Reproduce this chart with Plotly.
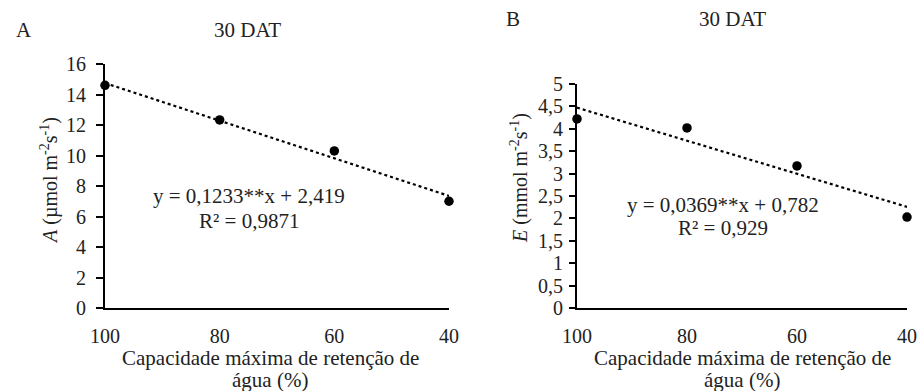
import plotly.graph_objects as go

# Data
x_levels = [100, 80, 60, 40]
a_values = [14.6, 12.33, 10.3, 7.0]
e_values = [4.22, 4.02, 3.17, 2.03]
a_fit = (0.1233, 2.419)
e_fit = (0.0369, 0.782)
x_ticks = [100, 80, 60, 40]
W, H = 920, 391

FONT = "Liberation Serif"

def px(x):
    return x / W

def py(y):
    return 1 - y / H

fig = go.Figure()

def add_panel(xa, ya, vals, fit):
    fx = [x_levels[0], x_levels[-1]]
    fy = [fit[0] * v + fit[1] for v in fx]
    fig.add_trace(go.Scatter(x=fx, y=fy, mode="lines",
                             line=dict(color="black", width=2.2, dash="dot"),
                             xaxis=xa, yaxis=ya, showlegend=False, hoverinfo="skip"))
    fig.add_trace(go.Scatter(x=x_levels, y=vals, mode="markers",
                             marker=dict(color="black", size=9.5),
                             xaxis=xa, yaxis=ya, showlegend=False, cliponaxis=False))

add_panel("x", "y", a_values, a_fit)
add_panel("x2", "y2", e_values, e_fit)

axis_common = dict(showline=True, linecolor="black", linewidth=2, showgrid=False,
                   zeroline=False, automargin=False,
                   tickfont=dict(family=FONT, size=20, color="#222"))

fig.update_layout(
    template="none",
    font=dict(family=FONT, color="#222"),
    width=W, height=H, margin=dict(l=0, r=0, t=0, b=0),
    paper_bgcolor="white", plot_bgcolor="white",
    separators=", ",
    xaxis=dict(domain=[px(105), px(449)], range=[100, 40], tickvals=x_ticks,
               ticks="", anchor="y", ticklabelstandoff=9, **axis_common),
    yaxis=dict(domain=[py(308), py(64)], range=[0, 16], dtick=2, ticks="outside",
               ticklen=7, tickwidth=1.5, tickcolor="black", anchor="x",
               ticklabelstandoff=6, **axis_common),
    xaxis2=dict(domain=[px(577), px(907)], range=[100, 40], tickvals=x_ticks,
                ticks="", anchor="y2", ticklabelstandoff=9, **axis_common),
    yaxis2=dict(domain=[py(308), py(84)], range=[0, 5], dtick=0.5, ticks="outside",
                ticklen=6, tickwidth=1.5, tickcolor="black", anchor="x2",
                ticklabelstandoff=2, **axis_common),
)

def ann(text, x, y, size=21, angle=0):
    fig.add_annotation(text=text, x=px(x), y=py(y), xref="paper", yref="paper",
                       showarrow=False, xanchor="center", yanchor="middle",
                       textangle=angle, font=dict(family=FONT, size=size, color="#222"))

ann("A", 24, 30, 21)
ann("30 DAT", 247, 30, 21)
ann("B", 513, 19, 21)
ann("30 DAT", 732, 19, 21)

ann("<i>A</i> (µmol m<sup>-2</sup>s<sup>-1</sup>)", 49, 181, 20, -90)
ann("<i>E</i> (mmol m<sup>-2</sup>s<sup>-1</sup>)", 519, 178, 20, -90)

ann("y = 0,1233**x + 2,419", 249, 196, 21)
ann("R² = 0,9871", 249, 221, 21)
ann("y = 0,0369**x + 0,782", 723, 205, 21)
ann("R² = 0,929", 723, 228, 21)

ann("Capacidade máxima de retenção de", 270, 358, 21)
ann("água (%)", 270, 380, 21)
ann("Capacidade máxima de retenção de", 742, 358, 21)
ann("água (%)", 742, 380, 21)

fig.write_html("out.html")
